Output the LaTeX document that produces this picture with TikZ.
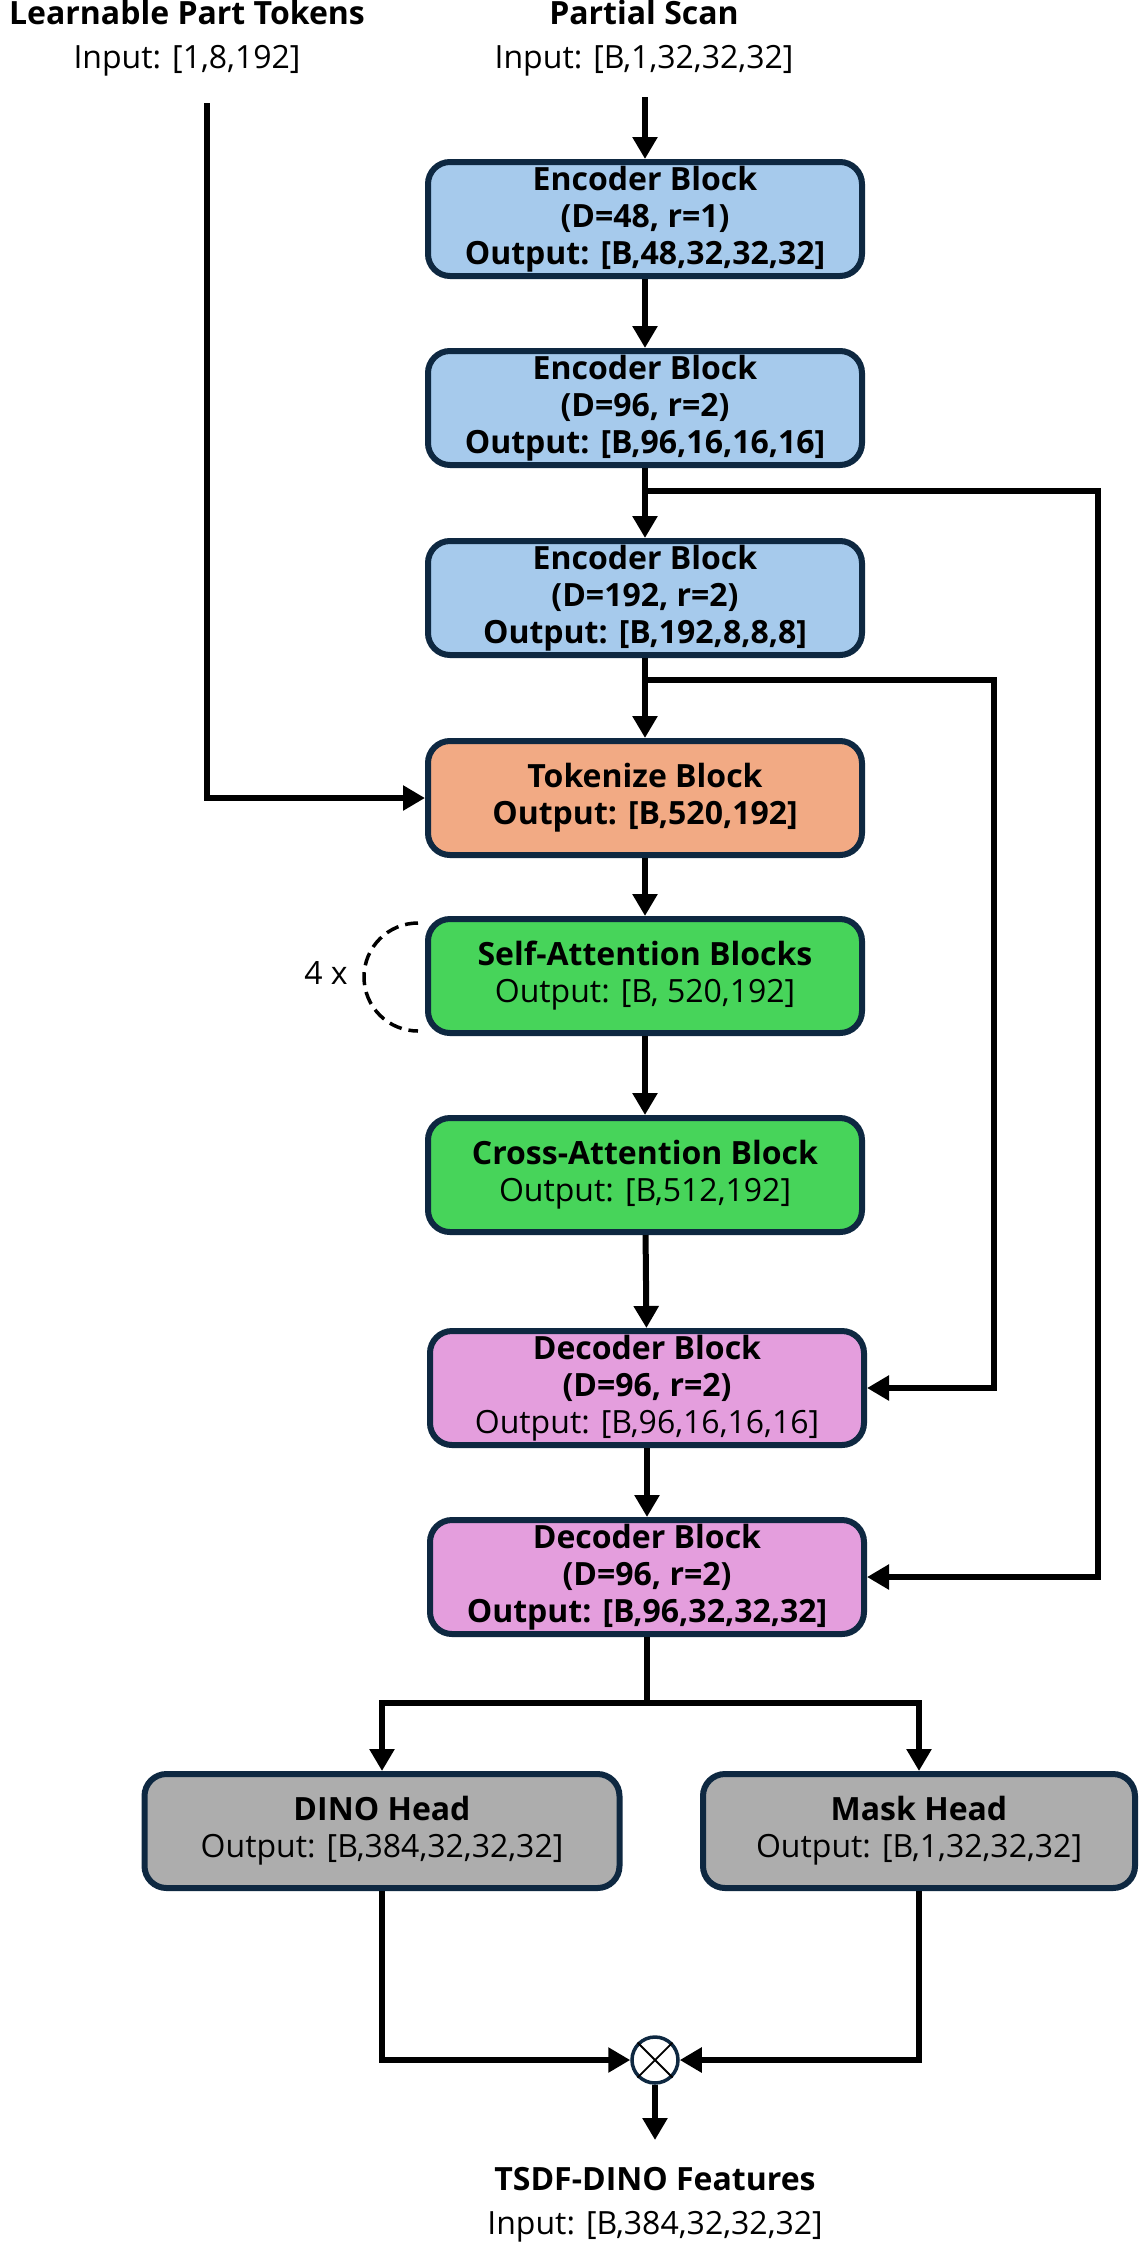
\documentclass[tikz,border=0pt]{standalone}
\usepackage{fontspec}
\setmainfont{Open Sans}
\usetikzlibrary{arrows.meta,positioning,calc}

\definecolor{edgeblue}{HTML}{0E2841}
\definecolor{encfill}{HTML}{A6CAEC}
\definecolor{tokfill}{HTML}{F2AA84}
\definecolor{attfill}{HTML}{47D45A}
\definecolor{decfill}{HTML}{E49EDD}
\definecolor{headfill}{HTML}{ADADAD}

\begin{document}
\begin{tikzpicture}[x=1pt, y=-1pt,
  >={Triangle[length=22pt,width=24pt]},
  font=\fontsize{32}{37}\selectfont,
  block/.style={draw=edgeblue, line width=6pt, rounded corners=22pt,
                minimum width=434pt, minimum height=114pt, inner sep=0pt,
                align=center},
  enc/.style={block, fill=encfill},
  tok/.style={block, fill=tokfill},
  att/.style={block, fill=attfill},
  dec/.style={block, fill=decfill},
  head/.style={block, fill=headfill},
  label/.style={align=center, font=\fontsize{32}{44}\selectfont},
  flow/.style={->, line width=6pt, draw=black},
  rep/.style={line width=3.5pt, draw=black, dash pattern=on 13pt off 7pt},
]
\useasboundingbox (0,0) rectangle (1141,2244);

% ============ INPUTS ============
\node[label] (lptin) at (187, 38) {\textbf{Learnable Part Tokens}\\Input: [1,8,192]};
\node[label] (psin) at (644, 38) {\textbf{Partial Scan}\\Input: [B,1,32,32,32]};
\coordinate (lpt) at (207, 103);
\coordinate (ps) at (645, 97);

% ============ ENCODER ============
\node[enc] (enc1) at (645, 219) {\textbf{Encoder Block}\\\textbf{(D=48, r=1)}\\\textbf{Output: [B,48,32,32,32]}};
\node[enc] (enc2) at (645, 408) {\textbf{Encoder Block}\\\textbf{(D=96, r=2)}\\\textbf{Output: [B,96,16,16,16]}};
\node[enc] (enc3) at (645, 598) {\textbf{Encoder Block}\\\textbf{(D=192, r=2)}\\\textbf{Output: [B,192,8,8,8]}};

% ============ TOKENS + ATTENTION ============
\node[tok] (tok) at (645, 798) {\textbf{Tokenize Block}\\\textbf{Output: [B,520,192]}};
\node[att] (self) at (645, 976) {\textbf{Self-Attention Blocks}\\Output: [B, 520,192]};
\node[att] (cross) at (645, 1175) {\textbf{Cross-Attention Block}\\Output: [B,512,192]};

% repeat marker
\draw[rep] (418, 923) arc[start angle=90, end angle=270, radius=54pt];
\node (rep4) at (326, 973) {4 x};

% ============ DECODER ============
\node[dec] (dec1) at (647, 1388) {\textbf{Decoder Block}\\\textbf{(D=96, r=2)}\\Output: [B,96,16,16,16]};
\node[dec] (dec2) at (647, 1577) {\textbf{Decoder Block}\\\textbf{(D=96, r=2)}\\\textbf{Output: [B,96,32,32,32]}};

% ============ HEADS ============
\node[head, minimum width=475pt] (dino) at (382, 1831) {\textbf{DINO Head}\\Output: [B,384,32,32,32]};
\node[head, minimum width=432pt] (mask) at (919, 1831) {\textbf{Mask Head}\\Output: [B,1,32,32,32]};

\node[circle, draw=edgeblue, line width=3.5pt, fill=white, minimum size=46pt, inner sep=0pt] (mul) at (655, 2060) {};
\draw[line width=1.8pt] (mul.north west) -- (mul.south east) (mul.north east) -- (mul.south west);
\coordinate (out) at (655, 2140);
\node[label] (feat) at (655, 2205) {\textbf{TSDF-DINO Features}\\Input: [B,384,32,32,32]};

% ============ MAIN FLOW ============
\draw[flow] (ps) -- (enc1.north);
\draw[flow] (enc1) -- (enc2);
\draw[flow] (enc2) -- (enc3);
\draw[flow] (enc3) -- (tok);
\draw[flow] (tok) -- (self);
\draw[flow] (self) -- (cross);
\draw[flow] (cross) -- (dec1);
\draw[flow] (dec1) -- (dec2);
\draw[flow] (lpt) |- (tok.west);

% ============ SKIP CONNECTIONS ============
\coordinate (skip2) at (645, 491);
\coordinate (skip3) at (645, 680);
\draw[flow] (skip2) -- (1098, 491) |- (dec2.east);
\draw[flow] (skip3) -- (994, 680) |- (dec1.east);

% ============ HEADS + FUSION ============
\draw[flow] (dec2.south) -- ++(0, 66) -| (dino.north);
\draw[flow] (dec2.south) -- ++(0, 66) -| (mask.north);
\draw[flow] (dino.south) |- (mul.west);
\draw[flow] (mask.south) |- (mul.east);
\draw[flow] (mul.south) -- (out);

\end{tikzpicture}
\end{document}
